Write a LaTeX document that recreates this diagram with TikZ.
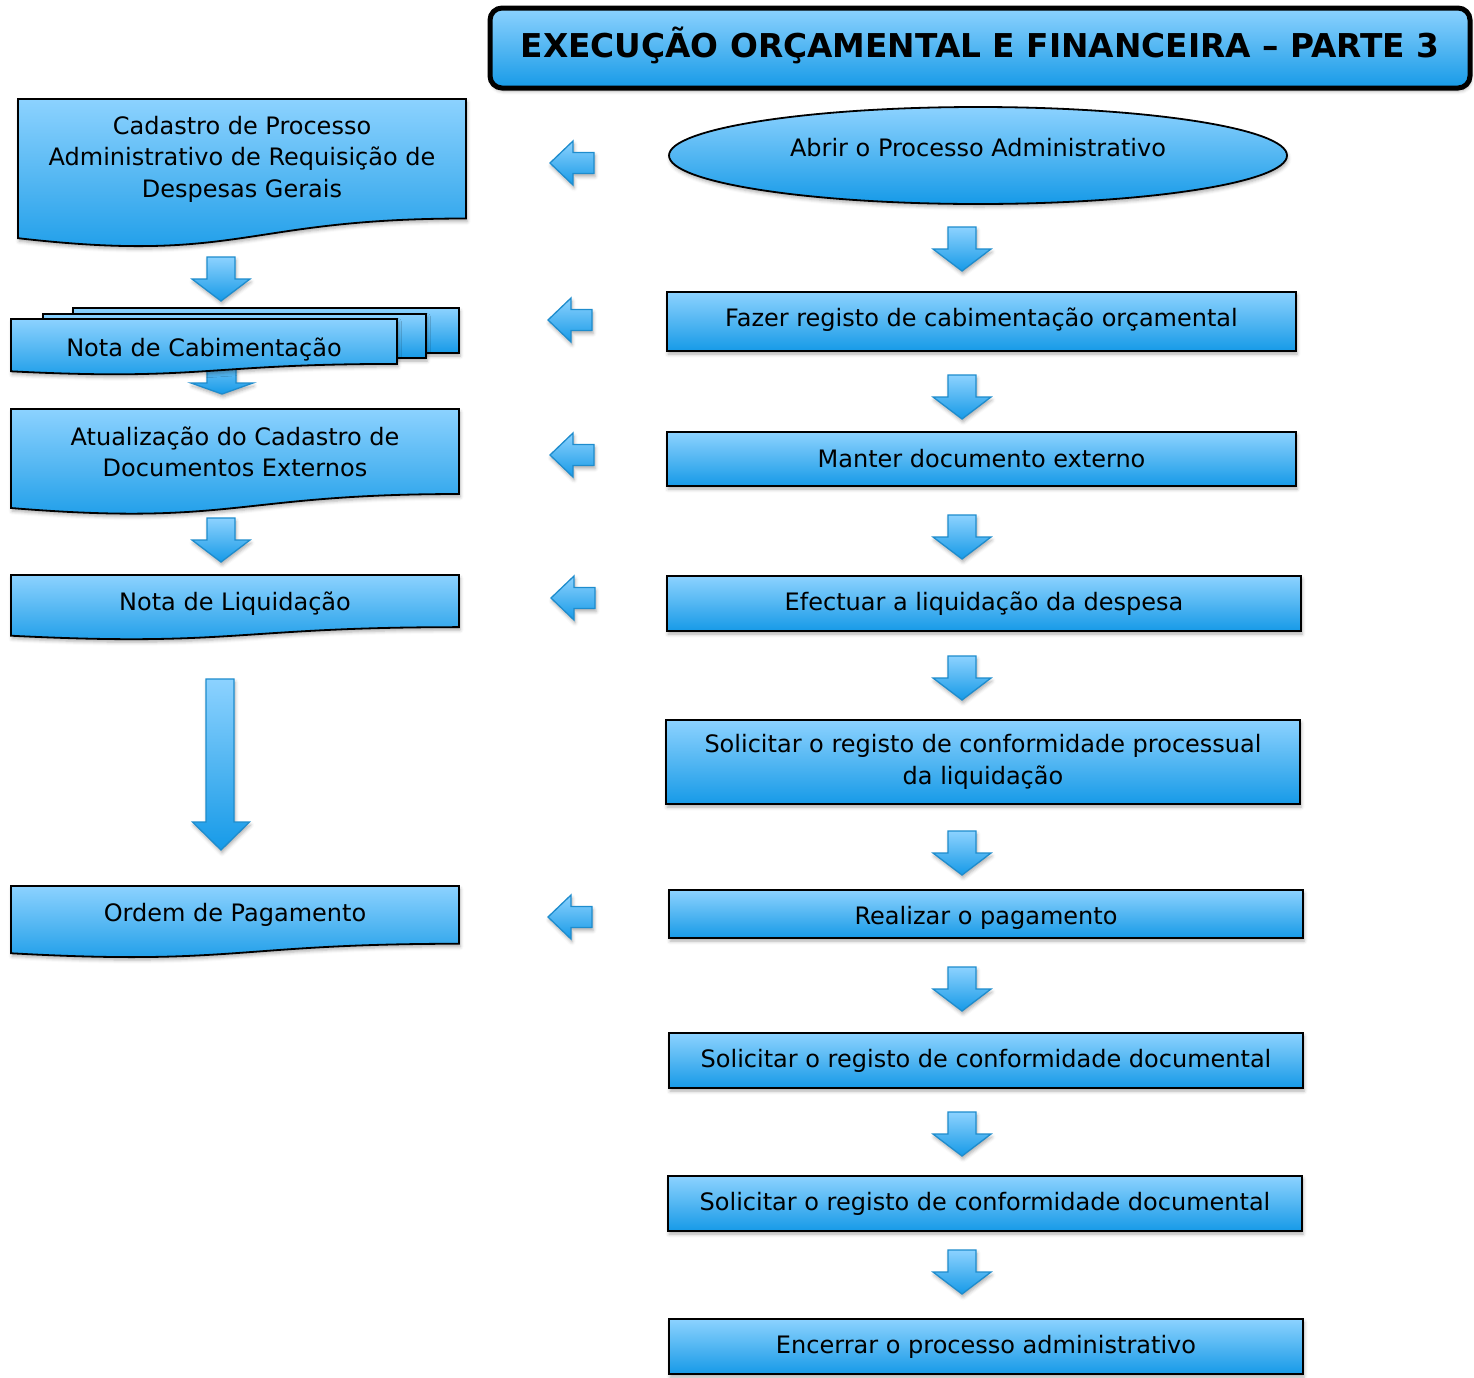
\documentclass[tikz,border=0pt]{standalone}
\usepackage{fontspec}
\setmainfont{DejaVu Sans}
\usetikzlibrary{shapes.geometric,shadows.blur}

\definecolor{bluetop}{RGB}{140,210,255}
\definecolor{bluemid}{RGB}{82,182,242}
\definecolor{bluebot}{RGB}{22,154,232}
\definecolor{arrowline}{RGB}{30,140,205}

\tikzset{
  softshadow/.style={blur shadow={shadow xshift=1pt, shadow yshift=-3pt,
      shadow blur radius=3.5pt, shadow opacity=32}},
  bluefill/.style={top color=bluetop, bottom color=bluebot, middle color=bluemid},
  txt/.style={font=\fontsize{24}{31.5}\selectfont, align=center},
  procbox/.style={draw=black, line width=1.8pt, bluefill, softshadow, txt,
      inner sep=0pt},
  docshape/.style={draw=black, line width=1.8pt, bluefill, softshadow},
  doctext/.style={txt, inner sep=0pt},
  blockarrow/.style={draw=arrowline, line width=1.3pt, bluefill, softshadow,
      line join=miter},
  pics/arrdown/.style={code={
      \path[blockarrow] (-14,0) -- (14,0) -- (14,22) -- (29,22) -- (0,44)
        -- (-29,22) -- (-14,22) -- cycle;}},
  pics/arrleft/.style={code={
      \path[blockarrow] (0,0) -- (23,-22) -- (23,-10.5) -- (44,-10.5)
        -- (44,10.5) -- (23,10.5) -- (23,22) -- cycle;}},
}

% document symbol: left x, top y, right x, full height
\newcommand\docpath[4]{%
  \path[docshape] (#1,#2) -- (#3,#2) -- (#3,{#2+0.802*#4})
    .. controls ({(#1+#3)/2},{#2+0.802*#4}) and ({(#1+#3)/2},{#2+1.1075*#4})
    .. (#1,{#2+0.934*#4}) -- cycle;}
% move a label up or down without changing the size of its node
\newcommand\lift[2]{\raisebox{#1}[\height][\depth]{#2}}

\begin{document}
\begin{tikzpicture}[x=1pt, y=-1pt]
\useasboundingbox (0,0) rectangle (1474,1377);

% ---- title ----
\node[draw=black, line width=5pt, rounded corners=12pt, bluefill, softshadow,
      minimum width=980pt, minimum height=80pt, inner sep=0pt,
      font=\fontsize{32.8}{38}\selectfont\bfseries] (title) at (980,48)
      {\lift{3pt}{EXECUÇÃO ORÇAMENTAL E FINANCEIRA – PARTE 3}};

% ---- left column: documents ----
\docpath{18}{99}{466}{149}
\node[doctext] (cadastro) at (242,159)
  {Cadastro de Processo\\Administrativo de Requisição de\\Despesas Gerais};

\pic at (221,257) {arrdown};

% flat arrow, mostly hidden behind the document stack
\path[blockarrow] (207,355) -- (236,355) -- (236,383) -- (253,383) -- (222,394)
  -- (191,383) -- (207,383) -- cycle;

\node[procbox, minimum width=386pt, minimum height=45pt] (nc3) at (266,330.5) {};
\node[procbox, minimum width=383pt, minimum height=44pt] (nc2) at (234.5,336) {};
\docpath{11}{319}{397}{56}
\node[doctext] (cabim) at (204,349) {Nota de Cabimentação};

\docpath{11}{409}{459}{106}
\node[doctext] (atual) at (235,452)
  {Atualização do Cadastro de\\Documentos Externos};

\pic at (221,518) {arrdown};

\docpath{11}{575}{459}{65}
\node[doctext] (liquid) at (235,604) {Nota de Liquidação};

% long arrow down to the payment order
\path[blockarrow] (206,679) -- (234,679) -- (234,822) -- (249.5,822) -- (221,850)
  -- (192.5,822) -- (206,822) -- cycle;

\docpath{11}{886}{459}{72}
\node[doctext] (ordem) at (235,915) {Ordem de Pagamento};

% ---- middle: arrows pointing to the documents ----
\pic at (550,163) {arrleft};
\pic at (548,320) {arrleft};
\pic at (550,455) {arrleft};
\pic at (551,598) {arrleft};
\pic at (548,917) {arrleft};

% ---- right column: process steps ----
\node[ellipse, draw=black, line width=1.8pt, bluefill, softshadow, txt,
      minimum width=618pt, minimum height=97pt, inner sep=0pt] (abrir) at (978,155.5)
      {\lift{8pt}{Abrir o Processo Administrativo}};

\pic at (962,227) {arrdown};
\node[procbox, minimum width=629pt, minimum height=59pt] (fazer) at (981.5,321.5)
  {\lift{1.5pt}{Fazer registo de cabimentação orçamental}};

\pic at (962,375) {arrdown};
\node[procbox, minimum width=629pt, minimum height=54pt] (manter) at (981.5,459)
  {Manter documento externo};

\pic at (962,515) {arrdown};
\node[procbox, minimum width=634pt, minimum height=55pt] (efect) at (984,603.5)
  {Efectuar a liquidação da despesa};

\pic at (962,656) {arrdown};
\node[procbox, minimum width=634pt, minimum height=84pt] (solproc) at (983,762)
  {Solicitar o registo de conformidade processual\\da liquidação};

\pic at (962,831) {arrdown};
\node[procbox, minimum width=634pt, minimum height=48pt] (realizar) at (986,914)
  {\lift{-4pt}{Realizar o pagamento}};

\pic at (962,967) {arrdown};
\node[procbox, minimum width=634pt, minimum height=55pt] (soldoca) at (986,1060.5)
  {Solicitar o registo de conformidade documental};

\pic at (962,1112) {arrdown};
\node[procbox, minimum width=634pt, minimum height=55pt] (soldocb) at (985,1203.5)
  {Solicitar o registo de conformidade documental};

\pic at (962,1250) {arrdown};
\node[procbox, minimum width=634pt, minimum height=55pt] (encerrar) at (986,1346.5)
  {Encerrar o processo administrativo};
\end{tikzpicture}
\end{document}
